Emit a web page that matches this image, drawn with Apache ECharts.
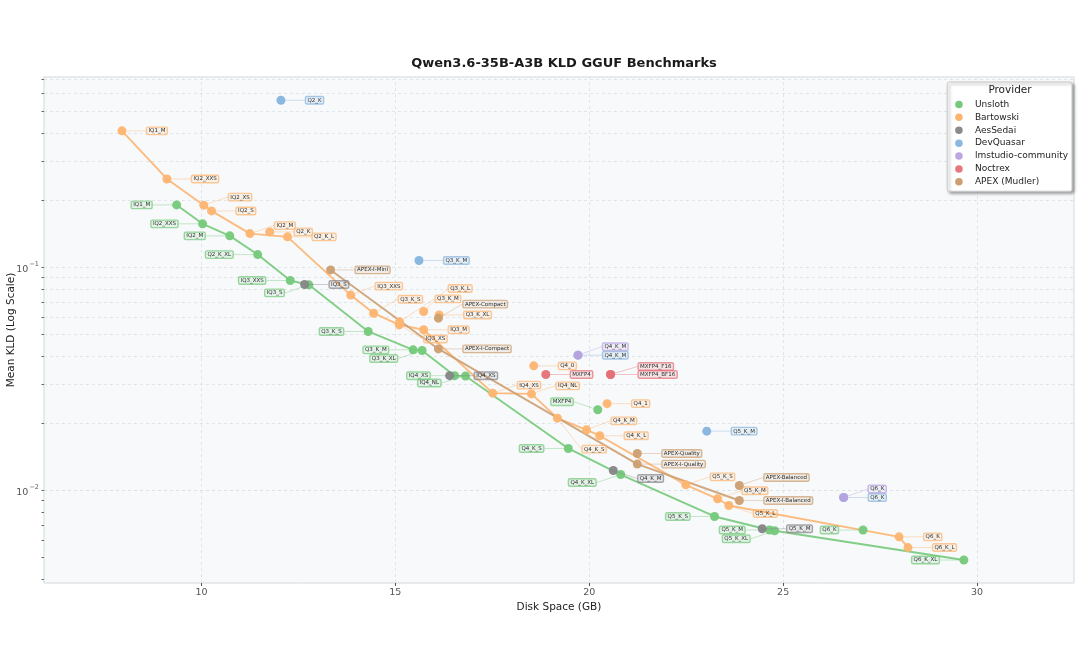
<!DOCTYPE html>
<html><head><meta charset="utf-8">
<script src="https://cdn.jsdelivr.net/npm/echarts@6/dist/echarts.min.js"></script>
<style>html,body{margin:0;padding:0;background:#fff}#c{width:1080px;height:667px}</style>
</head><body><div id="c"></div>
<script>
// ---------------- data ----------------
const providers = ['Unsloth','Bartowski','AesSedai','DevQuasar','lmstudio-community','Noctrex','APEX (Mudler)'];

const unslothNames = ['IQ1_M','IQ2_XXS','IQ2_M','Q2_K_XL','IQ3_XXS','IQ3_S','Q3_K_S','Q3_K_M','Q3_K_XL','IQ4_XS','IQ4_NL','MXFP4','Q4_K_S','Q4_K_XL','Q5_K_S','Q5_K_M','Q5_K_XL','Q6_K','Q6_K_XL'];
const unslothSize  = [9.36,10.03,10.73,11.45,12.29,12.77,14.30,15.46,15.69,16.53,16.81,20.22,19.46,20.81,23.23,24.65,24.78,27.06,29.66];
const unslothKLD   = [0.1905,0.1567,0.1384,0.1141,0.0873,0.0835,0.0516,0.0427,0.0424,0.0327,0.0326,0.0230,0.01543,0.01179,0.00765,0.00665,0.00660,0.00665,0.00488];

const bartowskiNames = ['IQ1_M','IQ2_XXS','IQ2_XS','IQ2_S','IQ2_M','Q2_K','Q2_K_L','IQ3_XXS','Q3_K_S','IQ3_XS','Q3_K_M','IQ3_M','Q3_K_L','Q3_K_XL','IQ4_XS','Q4_0','IQ4_NL','Q4_K_S','Q4_K_M','Q4_K_L','Q4_1','Q5_K_S','Q5_K_M','Q5_K_L','Q6_K','Q6_K_L'];
const bartowskiSize  = [7.95,9.11,10.06,10.26,11.25,11.76,12.22,13.85,14.44,15.10,15.11,15.73,15.73,16.13,17.51,18.57,18.51,19.18,19.93,20.27,20.46,22.49,23.31,23.60,27.99,28.22];
const bartowskiKLD   = [0.409,0.249,0.190,0.179,0.1417,0.1442,0.1370,0.0751,0.0623,0.0552,0.0570,0.0525,0.0634,0.0612,0.0273,0.0362,0.0271,0.0211,0.0187,0.0176,0.0245,0.01060,0.00918,0.00857,0.00620,0.00555];

const aesNames = ['IQ3_S','IQ4_XS','Q4_K_M','Q5_K_M'];
const aesSize  = [12.66,16.40,20.62,24.46];
const aesKLD   = [0.0838,0.0327,0.01229,0.00674];

const devqNames = ['Q2_K','Q3_K_M','Q4_K_M','Q5_K_M','Q6_K'];
const devqSize  = [12.05,15.61,19.71,23.03,26.56];
const devqKLD   = [0.561,0.1073,0.0404,0.01845,0.00930];

const lmsNames = ['Q4_K_M','Q6_K'];
const lmsSize  = [19.71,26.56];
const lmsKLD   = [0.0404,0.00930];

const noctrexNames = ['MXFP4','MXFP4_F16','MXFP4_BF16'];
const noctrexSize  = [18.88,20.55,20.55];
const noctrexKLD   = [0.0331,0.0331,0.0331];

const apexNames = ['APEX-I-Mini','APEX-Compact','APEX-I-Compact','APEX-Quality','APEX-I-Quality','APEX-Balanced','APEX-I-Balanced'];
const apexSize  = [13.33,16.11,16.11,21.24,21.24,23.87,23.87];
const apexKLD   = [0.0974,0.0592,0.0431,0.01465,0.01313,0.01053,0.00902];

// providers that get a frontier line
const lineProviders = ['Unsloth','Bartowski','APEX (Mudler)'];

// axis ticks / grid
const xTicks = [10,15,20,25,30];
const yMajorTicks = [0.01,0.1];
const yGridValues = [0.004,0.005,0.006,0.007,0.008,0.009,0.01,0.02,0.03,0.04,0.05,0.06,0.07,0.08,0.09,0.1,0.2,0.3,0.4,0.5,0.6,0.7];

// ---------------- styling / layout ----------------
const colors = ['#74c97a','#fdb470','#858587','#86b4de','#b8a2df','#e57078','#cc9e70'];
const FONT = 'DejaVu Sans';
const labelShift = {
  'Unsloth|IQ3_S':[0,8],'Unsloth|Q3_K_XL':[0,8],'Unsloth|IQ4_NL':[0,7],'Unsloth|MXFP4':[0,-8],'Unsloth|Q4_K_XL':[0,8],'Unsloth|Q5_K_XL':[0,8],
  'AesSedai|Q4_K_M':[0,8],
  'Bartowski|IQ2_XS':[0,-8],'Bartowski|IQ2_M':[0,-8],'Bartowski|IQ3_XXS':[0,-9],'Bartowski|Q3_K_S':[0,-14],'Bartowski|Q3_K_M':[11,-23],
  'Bartowski|Q3_K_L':[0,-23],'Bartowski|IQ3_XS':[0,14],'Bartowski|IQ4_XS':[0,-8],'Bartowski|IQ4_NL':[0,-8],'Bartowski|Q4_K_S':[0,31],
  'Bartowski|Q4_K_M':[0,-9],'Bartowski|Q5_K_S':[0,-8],'Bartowski|Q5_K_M':[0,-8],'Bartowski|Q5_K_L':[0,8],
  'lmstudio-community|Q4_K_M':[0,-8.5],'lmstudio-community|Q6_K':[0,-8.5],
  'Noctrex|MXFP4_F16':[3,-8],'Noctrex|MXFP4_BF16':[3,0],
  'APEX (Mudler)|APEX-Compact':[0,-14],'APEX (Mudler)|APEX-Balanced':[0,-8]
};

function rgba(hex,a){const n=parseInt(hex.slice(1),16);return 'rgba('+(n>>16)+','+((n>>8)&255)+','+(n&255)+','+a+')';}

const sets = [
  [unslothNames,unslothSize,unslothKLD],
  [bartowskiNames,bartowskiSize,bartowskiKLD],
  [aesNames,aesSize,aesKLD],
  [devqNames,devqSize,devqKLD],
  [lmsNames,lmsSize,lmsKLD],
  [noctrexNames,noctrexSize,noctrexKLD],
  [apexNames,apexSize,apexKLD]
];

const shiftTable = [];
const series = [];

// gridlines (through the axes' own scales)
series.push({
  type:'line', name:'_grid', data:[], silent:true, z:1,
  markLine:{
    silent:true, symbol:'none', z:1, animation:false,
    label:{show:false},
    lineStyle:{type:[3,3], color:'#dae0e5', width:0.8},
    emphasis:{disabled:true},
    data: yGridValues.map(v=>({yAxis:v})).concat(xTicks.map(v=>({xAxis:v})))
  }
});
shiftTable.push([]);

// frontier lines (points on the lower-left envelope of each provider)
sets.forEach((s,i)=>{
  if (lineProviders.indexOf(providers[i])<0) return;
  const idx = s[0].map((_,k)=>k).sort((a,b)=> (s[1][a]-s[1][b]) || (s[2][a]-s[2][b]));
  let best = Infinity; const pts=[];
  idx.forEach(k=>{ if (s[2][k] < best){ best=s[2][k]; pts.push([s[1][k],s[2][k]]); } });
  series.push({
    type:'line', name:providers[i], data:pts, showSymbol:false, symbol:'none', z:2, silent:true,
    lineStyle:{color:colors[i], width:1.9, opacity:0.9}, itemStyle:{color:colors[i]}
  });
  shiftTable.push([]);
});

// scatter points with labels
sets.forEach((s,i)=>{
  const p = providers[i], left = (p==='Unsloth');
  const shifts = s[0].map(n=> labelShift[p+'|'+n] || [0,0]);
  shiftTable.push(shifts.map(d=>[left?-d[0]:d[0], d[1]]));
  series.push({
    type:'scatter', name:p, z:3+i*0.01,
    symbolSize:9,
    itemStyle:{color:colors[i], opacity:0.95},
    data: s[0].map((n,k)=>({name:n, value:[s[1][k], s[2][k]]})),
    label:{
      show:true, formatter:'{b}', position: left?'left':'right', distance:20,
      fontFamily:FONT, fontSize:5.5, color:'#222', lineHeight:6,
      backgroundColor: rgba(colors[i],0.16), borderColor: rgba(colors[i],0.75), borderWidth:0.7,
      borderRadius:1.5, padding:[1,2,0.5,2]
    },
    labelLine:{show:true, lineStyle:{color:rgba(colors[i],0.5), width:0.8}},
    labelLayout: function(prm){
      const d = (shiftTable[prm.seriesIndex]||[])[prm.dataIndex];
      return d ? {dx:d[0], dy:d[1]} : {};
    },
    emphasis:{disabled:true}
  });
});

const option = {
  animation:false,
  backgroundColor:'#ffffff',
  textStyle:{fontFamily:FONT},
  title:{
    text:'Qwen3.6-35B-A3B KLD GGUF Benchmarks', left:559, top:52, textAlign:'center',
    textStyle:{fontFamily:FONT, fontSize:13, fontWeight:'bold', color:'#1a1a1a'}
  },
  grid:{left:44, right:6, top:77, bottom:84, containLabel:false, outerBoundsMode:'none',
    show:true, backgroundColor:'#f7f9fb', borderColor:'#d3d9de', borderWidth:1},
  xAxis:{
    type:'value', min:5.94, max:32.5,
    name:'Disk Space (GB)', nameLocation:'middle', nameGap:19, nameMoveOverlap:false,
    nameTextStyle:{fontFamily:FONT, fontSize:10.5, color:'#222'},
    axisLine:{show:false},
    axisTick:{show:true, length:3, lineStyle:{color:'#555'}, customValues:xTicks},
    axisLabel:{fontFamily:FONT, fontSize:9.5, color:'#555', margin:5, customValues:xTicks,
      formatter:v=> (xTicks.indexOf(v)>=0 ? String(v) : '')},
    splitLine:{show:false}
  },
  yAxis:{
    type:'log', logBase:10, min:0.00385, max:0.713,
    name:'Mean KLD (Log Scale)', nameLocation:'middle', nameGap:27, nameMoveOverlap:false,
    nameTextStyle:{fontFamily:FONT, fontSize:10.5, color:'#222'},
    axisLine:{show:false},
    axisTick:{show:true, length:2.5, lineStyle:{color:'#666'}, customValues:yGridValues},
    axisLabel:{
      customValues:yMajorTicks, margin:5,
      formatter:function(v){
        const e = Math.round(Math.log10(v));
        if (Math.abs(v-Math.pow(10,e))/v < 1e-6) return '{b|10}{s|\u2212'+(-e)+'}';
        return '';
      },
      rich:{
        b:{fontFamily:FONT, fontSize:9.5, color:'#555', lineHeight:14, verticalAlign:'bottom'},
        s:{fontFamily:FONT, fontSize:6.5, color:'#555', lineHeight:14, verticalAlign:'top', padding:[0,0,0,1]}
      }
    },
    splitLine:{show:false}, minorTick:{show:false}
  },
  legend:{
    data: providers.map(n=>({name:n, icon:'circle'})),
    orient:'vertical', right:8, top:82,
    itemWidth:8, itemHeight:7.5, itemGap:0,
    padding:[16,4,3,8],
    backgroundColor:'#ffffff', borderColor:'#c8c8c8', borderWidth:1, borderRadius:2,
    shadowColor:'rgba(0,0,0,0.35)', shadowBlur:3, shadowOffsetX:2, shadowOffsetY:2,
    textStyle:{fontFamily:FONT, fontSize:9, color:'#222', lineHeight:12.9, padding:[0,0,0,7]},
    selectedMode:false
  },
  graphic:[{
    type:'text', z:100, zlevel:0,
    style:{text:'Provider', x:1010, y:90, align:'center', verticalAlign:'middle', fontFamily:FONT, fontSize:10.5, fill:'#222'}
  }],
  series: series
};

const chart = echarts.init(document.getElementById('c'), null, {renderer:'canvas'});
chart.setOption(option);
</script>
</body></html>
